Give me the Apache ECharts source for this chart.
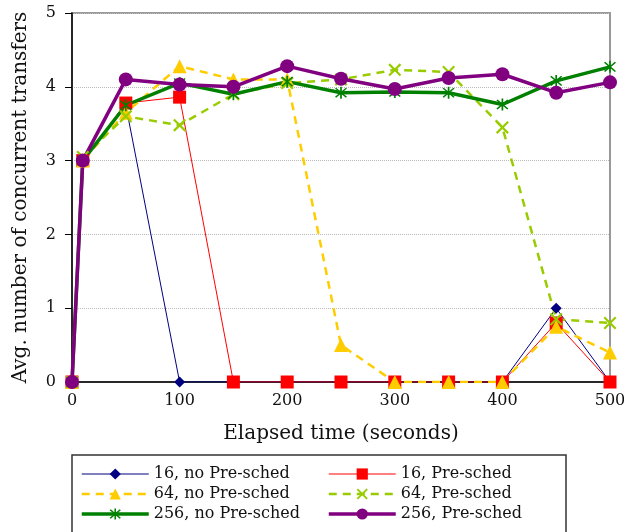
<!DOCTYPE html>
<html><head><meta charset="utf-8">
<script src="https://cdn.jsdelivr.net/npm/echarts@6/dist/echarts.min.js"></script>
<style>html,body{margin:0;padding:0;background:#fff}#c{width:624px;height:532px}</style>
</head><body><div id="c"></div>
<script>
const times = [0, 10, 50, 100, 150, 200, 250, 300, 350, 400, 450, 500];
const s16no  = [0, 3, 3.75, 0, 0, 0, 0, 0, 0, 0, 1.0, 0];
const s16pre = [0, 3, 3.78, 3.86, 0, 0, 0, 0, 0, 0, 0.8, 0];
const s64no  = [0, 3, 3.65, 4.28, 4.1, 4.1, 0.5, 0, 0, 0, 0.75, 0.4];
const s64pre = [0, 3.05, 3.6, 3.48, 3.9, 4.05, 4.1, 4.23, 4.2, 3.45, 0.85, 0.8];
const s256no = [0, 3, 3.75, 4.05, 3.9, 4.07, 3.92, 3.93, 3.92, 3.76, 4.08, 4.27];
const s256pre= [0, 3, 4.1, 4.03, 4.0, 4.28, 4.11, 3.97, 4.12, 4.17, 3.92, 4.06];
const names = ['16, no Pre-sched','16, Pre-sched','64, no Pre-sched','64, Pre-sched','256, no Pre-sched','256, Pre-sched'];
const yTicks = [0,1,2,3,4,5];

const FONT = 'DejaVu Serif';
const xSym = 'path://M0,1.2 L1.2,0 L10,8.8 L8.8,10 Z M8.8,0 L10,1.2 L1.2,10 L0,8.8 Z';
const starSym = 'path://M4.4,0 L5.6,0 L5.6,10 L4.4,10 Z M0.8,1.6 L1.6,0.8 L9.2,8.4 L8.4,9.2 Z M8.4,0.8 L9.2,1.6 L1.6,9.2 L0.8,8.4 Z';

function pairs(arr){ return times.map((t,i)=>[t,arr[i]]); }
function mk(name, arr, color, width, type, symbol, size){
  return {name, type:'line', data:pairs(arr), symbol, symbolSize:size,
    showAllSymbol:true, animation:false,
    lineStyle:{color, width, type}, itemStyle:{color, borderWidth:0}};
}
const legendText = {fontFamily:FONT, fontSize:16, color:'#111', lineHeight:14};
const legendCommon = {orient:'vertical', top:466, height:120, width:240,
  itemWidth:67, itemHeight:14, itemGap:4, itemTextGap:9, padding:0, textStyle:legendText,
  lineStyle:{width:'inherit', type:'inherit', color:'inherit'}};
const chart = echarts.init(document.getElementById('c'));
chart.setOption({
  animation:false,
  backgroundColor:'#fff',
  textStyle:{fontFamily:FONT},
  grid:{left:72, right:14, top:13, bottom:150, outerBoundsMode:'none', containLabel:false,
    show:true, borderColor:'#999', borderWidth:2, backgroundColor:'transparent'},
  xAxis:{type:'value', min:0, max:500, interval:100,
    name:'Elapsed time (seconds)', nameLocation:'middle', nameGap:42,
    nameTextStyle:{fontFamily:FONT, fontSize:20, color:'#111'},
    axisLine:{show:true, onZero:false, lineStyle:{color:'#000', width:1.5}},
    axisTick:{show:true, length:4, lineStyle:{color:'#000'}},
    axisLabel:{fontFamily:FONT, fontSize:16, color:'#111', margin:11},
    splitLine:{show:false}},
  yAxis:{type:'value', min:0, max:5, interval:1,
    name:'Avg. number of concurrent transfers', nameLocation:'middle', nameGap:41,
    nameTextStyle:{fontFamily:FONT, fontSize:20, color:'#111'},
    axisLine:{show:true, lineStyle:{color:'#000', width:1.5}},
    axisTick:{show:true, length:7, lineStyle:{color:'#000'}},
    axisLabel:{fontFamily:FONT, fontSize:16, color:'#111', margin:16,
      formatter:v=>yTicks.includes(v)?String(v):''},
    splitLine:{show:true, lineStyle:{color:'#bbb', type:'dotted', width:1}}},
  legend:[
    Object.assign({data:[names[0],names[2],names[4]], left:80}, legendCommon),
    Object.assign({data:[names[1],names[3],names[5]], left:327}, legendCommon)
  ],
  graphic:[{type:'rect', shape:{x:72, y:455, width:494, height:100}, style:{fill:'none', stroke:'#333', lineWidth:1.5}, z:-1}],
  series:[
    mk(names[0], s16no, '#000080', 1, 'solid', 'diamond', 11),
    mk(names[1], s16pre, '#ff0000', 1, 'solid', 'rect', 13),
    mk(names[2], s64no, '#ffcc00', 2.5, [8,6], 'triangle', 14),
    mk(names[3], s64pre, '#99cc00', 2.5, [8,6], xSym, 13),
    mk(names[4], s256no, '#008000', 3.5, 'solid', starSym, 12),
    mk(names[5], s256pre, '#800080', 3.5, 'solid', 'circle', 14)
  ]
});
</script></body></html>
